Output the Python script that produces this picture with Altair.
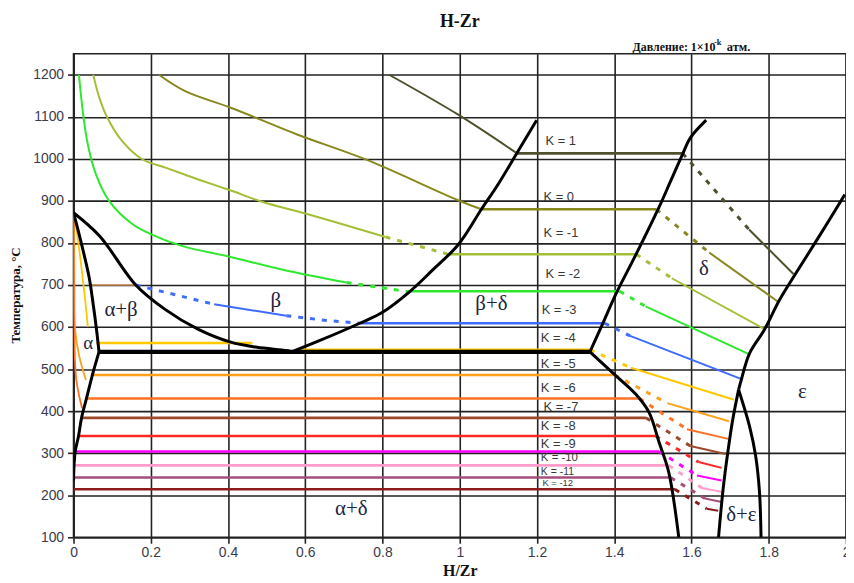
import altair as alt
import pandas as pd

# ---------------- axes ----------------
X_TICKS = [0, 0.2, 0.4, 0.6, 0.8, 1, 1.2, 1.4, 1.6, 1.8, 2]
Y_TICKS = [100, 200, 300, 400, 500, 600, 700, 800, 900, 1000, 1100, 1200]

# ---------------- K (pressure exponent) colours ----------------
K_NAMES = ["1", "0", "-1", "-2", "-3", "-3ab", "-4", "-5", "-6", "-7", "-8", "-9", "-10", "-11", "-12"]
K_COLORS = ["#50502c", "#88881f", "#a3bf35", "#2ee82e", "#3d6cff", "#c98a4a", "#ffc800",
            "#ffa11a", "#ff7124", "#9e4a2a", "#ff2626", "#ff00ff", "#ff9ccc", "#a44f7c", "#8c1c1c"]

# ---------------- phase boundaries (H/Zr, T °C) ----------------
B_BETA_TRANSUS = [(0, 872), (0.068, 816), (0.161, 700), (0.237, 642), (0.322, 595), (0.407, 564),
                  (0.475, 552), (0.551, 544), (0.565, 541)]
B_ALPHA_BETA = [(0, 872), (0.02, 800), (0.04, 720), (0.05, 660), (0.06, 590), (0.066, 541)]
B_ALPHA_SOLVUS = [(0.066, 541), (0.05, 490), (0.034, 432), (0.021, 385), (0.013, 341), (0.004, 302), (0, 235)]
B_EUTECTOID = [(0.066, 541), (1.337, 541)]
B_BETA_DELTA = [(0.565, 541), (0.638, 568), (0.741, 609), (0.8, 635), (0.869, 683), (0.928, 734),
                (0.997, 797), (1.056, 880), (1.099, 939), (1.15, 1017), (1.199, 1092)]
B_DELTA_LEFT = [(1.337, 541), (1.371, 610), (1.405, 680), (1.456, 772), (1.516, 885), (1.545, 945),
                (1.575, 1007), (1.597, 1050), (1.638, 1092)]
B_DELTA_ALPHA = [(1.337, 541), (1.401, 487), (1.456, 440), (1.49, 397), (1.516, 326), (1.541, 255), (1.567, 100)]
B_DELTA_RIGHT = [(1.722, 451), (1.729, 475), (1.75, 537), (1.789, 594), (1.827, 663), (1.869, 726),
                 (1.93, 815), (1.997, 915)]
B_DELTA_DE = [(1.722, 451), (1.707, 381), (1.694, 302), (1.682, 216), (1.670, 100)]
B_EPS_DE = [(1.722, 451), (1.750, 365), (1.766, 294), (1.776, 208), (1.780, 100)]

# ---------------- isobars ----------------
K1_BETA = [(0.817, 1200), (0.996, 1105), (1.145, 1015)]
K1_TIE = [(1.145, 1013), (1.577, 1013)]
K1_DOTS = [(1.577, 1013), (1.749, 832)]
K1_DELTA = [(1.749, 832), (1.864, 726)]

K0_BETA = [(0.221, 1200), (0.289, 1161), (0.409, 1121), (0.579, 1058), (0.758, 998), (0.997, 901), (1.056, 880)]
K0_TIE = [(1.056, 880), (1.509, 880)]
K0_DOTS = [(1.509, 880), (1.646, 777)]
K0_DELTA = [(1.646, 777), (1.826, 659)]

KM1_BETA = [(0.051, 1200), (0.067, 1145), (0.088, 1097), (0.126, 1042), (0.178, 999), (0.238, 979),
            (0.323, 951), (0.409, 924), (0.494, 896), (0.6, 870), (0.808, 814)]
KM1_DOTS1 = [(0.808, 814), (0.971, 773)]
KM1_TIE = [(0.971, 773), (1.457, 773)]
KM1_DOTS2 = [(1.457, 773), (1.549, 716)]
KM1_DELTA = [(1.549, 716), (1.787, 596)]

KM2_BETA = [(0.014, 1200), (0.024, 1113), (0.037, 1034), (0.058, 963), (0.092, 900), (0.152, 845),
            (0.2, 821), (0.28, 793), (0.409, 766), (0.553, 734), (0.707, 706)]
KM2_DOTS1 = [(0.707, 706), (0.86, 685)]
KM2_TIE = [(0.86, 685), (1.414, 685)]
KM2_DOTS2 = [(1.414, 685), (1.481, 649)]
KM2_DELTA = [(1.481, 649), (1.75, 535)]

KM3_AB = [(0.045, 700), (0.161, 700)]
KM3_DOTS1 = [(0.161, 700), (0.364, 654)]
KM3_BETA = [(0.364, 654), (0.551, 627)]
KM3_DOTS2 = [(0.551, 627), (0.65, 616), (0.741, 609)]
KM3_TIE = [(0.741, 609), (1.375, 609)]
KM3_DOTS3 = [(1.375, 609), (1.441, 579)]
KM3_DELTA = [(1.441, 579), (1.733, 475)]

KM4_ALPHA = [(0.003, 865), (0.017, 768), (0.03, 666), (0.037, 601)]
KM4_AB = [(0.058, 562), (0.463, 562)]
KM4_TIE = [(0.575, 546), (1.337, 546)]
KM4_DOTS = [(1.337, 546), (1.443, 503)]
KM4_DELTA = [(1.443, 503), (1.710, 427)]

KM5_ALPHA = [(0.001, 870), (0.002, 700), (0.004, 594), (0.015, 530), (0.032, 474)]
KM5_TIE = [(0.045, 486), (1.401, 486)]
KM5_DOTS = [(1.401, 486), (1.537, 419)]
KM5_DELTA = [(1.537, 419), (1.697, 376)]

KM6_ALPHA = [(0.0, 870), (0.001, 700), (0.002, 594), (0.007, 476), (0.022, 407)]
KM6_TIE = [(0.032, 430), (1.465, 430)]
KM6_DOTS = [(1.465, 430), (1.588, 357)]
KM6_DELTA = [(1.588, 357), (1.695, 334)]

KM7_TIE = [(0.022, 384), (1.482, 384)]
KM7_DOTS = [(1.482, 384), (1.597, 317)]
KM7_DELTA = [(1.597, 317), (1.688, 298)]

KM8_TIE = [(0.013, 341), (1.507, 341)]
KM8_DOTS = [(1.507, 341), (1.618, 279)]
KM8_DELTA = [(1.618, 279), (1.678, 265)]

KM9_TIE = [(0.004, 304), (1.516, 304)]
KM9_DOTS = [(1.516, 304), (1.614, 247)]
KM9_DELTA = [(1.614, 247), (1.678, 235)]

KM10_TIE = [(0.002, 271), (1.541, 271)]
KM10_DOTS = [(1.541, 271), (1.627, 217)]
KM10_DELTA = [(1.627, 217), (1.678, 208)]

KM11_TIE = [(0.0, 242), (1.546, 242)]
KM11_DOTS = [(1.546, 242), (1.635, 192)]
KM11_DELTA = [(1.635, 192), (1.678, 184)]

KM12_TIE = [(0.0, 214), (1.557, 214)]
KM12_DOTS = [(1.557, 214), (1.639, 168)]
KM12_DELTA = [(1.639, 168), (1.669, 163)]

# ---------------- labels ----------------
K_LABELS = ["K = 1", "K = 0", "K = -1", "K = -2", "K = -3", "K = -4", "K = -5", "K = -6",
            "K = -7", "K = -8", "K = -9"]
K_LABEL_X = [1.222, 1.217, 1.217, 1.222, 1.212, 1.21, 1.21, 1.21, 1.217, 1.21, 1.21]
K_LABEL_T = [1042, 910, 823, 726, 641, 575, 513, 454, 409, 365, 322]
K10_LABEL = ["K = -10"]
K10_X = [1.21]
K10_T = [288]
K11_LABEL = ["K = -11"]
K11_X = [1.21]
K11_T = [256]
K12_LABEL = ["K = -12"]
K12_X = [1.214]
K12_T = [228]

PHASES = ["α+β", "β", "β+δ", "δ", "ε", "δ+ε", "α+δ"]
PHASE_X = [0.123, 0.524, 1.082, 1.632, 1.887, 1.729, 0.719]
PHASE_T = [641, 662, 655, 738, 445, 152, 168]
ALPHA_LABEL_X = [0.038]
ALPHA_LABEL_T = [561]

# ---------------- build tables ----------------
SEGMENTS = [
    ("k1b", "1", "curve", K1_BETA), ("k1t", "1", "tie", K1_TIE), ("k1d", "1", "dot", K1_DOTS), ("k1s", "1", "curve", K1_DELTA),
    ("k0b", "0", "curve", K0_BETA), ("k0t", "0", "tie", K0_TIE), ("k0d", "0", "dot", K0_DOTS), ("k0s", "0", "curve", K0_DELTA),
    ("m1b", "-1", "curve", KM1_BETA), ("m1d1", "-1", "dot", KM1_DOTS1), ("m1t", "-1", "tie", KM1_TIE),
    ("m1d2", "-1", "dot", KM1_DOTS2), ("m1s", "-1", "curve", KM1_DELTA),
    ("m2b", "-2", "curve", KM2_BETA), ("m2d1", "-2", "dot", KM2_DOTS1), ("m2t", "-2", "tie", KM2_TIE),
    ("m2d2", "-2", "dot", KM2_DOTS2), ("m2s", "-2", "curve", KM2_DELTA),
    ("m3ab", "-3ab", "thin", KM3_AB), ("m3d1", "-3", "dot", KM3_DOTS1), ("m3b", "-3", "curve", KM3_BETA),
    ("m3d2", "-3", "dot", KM3_DOTS2), ("m3t", "-3", "tie", KM3_TIE), ("m3d3", "-3", "dot", KM3_DOTS3),
    ("m3s", "-3", "curve", KM3_DELTA),
    ("m4a", "-4", "alpha", KM4_ALPHA), ("m4ab", "-4", "tie", KM4_AB), ("m4t", "-4", "tie", KM4_TIE),
    ("m4d", "-4", "dot", KM4_DOTS), ("m4s", "-4", "curve", KM4_DELTA),
    ("m5a", "-5", "alpha", KM5_ALPHA), ("m5t", "-5", "tie", KM5_TIE), ("m5d", "-5", "dot", KM5_DOTS), ("m5s", "-5", "curve", KM5_DELTA),
    ("m6a", "-6", "alpha", KM6_ALPHA), ("m6t", "-6", "tie", KM6_TIE), ("m6d", "-6", "dot", KM6_DOTS), ("m6s", "-6", "curve", KM6_DELTA),
    ("m7t", "-7", "tie", KM7_TIE), ("m7d", "-7", "dot", KM7_DOTS), ("m7s", "-7", "curve", KM7_DELTA),
    ("m8t", "-8", "tie", KM8_TIE), ("m8d", "-8", "dot", KM8_DOTS), ("m8s", "-8", "curve", KM8_DELTA),
    ("m9t", "-9", "tie", KM9_TIE), ("m9d", "-9", "dot", KM9_DOTS), ("m9s", "-9", "curve", KM9_DELTA),
    ("m10t", "-10", "tie", KM10_TIE), ("m10d", "-10", "dot", KM10_DOTS), ("m10s", "-10", "curve", KM10_DELTA),
    ("m11t", "-11", "tie", KM11_TIE), ("m11d", "-11", "dot", KM11_DOTS), ("m11s", "-11", "curve", KM11_DELTA),
    ("m12t", "-12", "tie", KM12_TIE), ("m12d", "-12", "dot", KM12_DOTS), ("m12s", "-12", "curve", KM12_DELTA),
]
BOUNDS = [
    ("b1", "bound", B_BETA_TRANSUS), ("b2", "bound", B_ALPHA_BETA), ("b3", "bound", B_ALPHA_SOLVUS),
    ("b4", "eut", B_EUTECTOID), ("b5", "bound", B_BETA_DELTA), ("b6", "bound", B_DELTA_LEFT),
    ("b7", "bound", B_DELTA_ALPHA), ("b8", "bound", B_DELTA_RIGHT), ("b9", "bound", B_DELTA_DE),
    ("b10", "bound", B_EPS_DE),
]

rows = []
for name, k, style, pts in SEGMENTS:
    for i, (x, t) in enumerate(pts):
        rows.append({"seg": name, "k": k, "style": style, "i": i, "x": x, "t": t})
iso = pd.DataFrame(rows)

brows = []
for name, style, pts in BOUNDS:
    for i, (x, t) in enumerate(pts):
        brows.append({"seg": name, "style": style, "i": i, "x": x, "t": t})
bnd = pd.DataFrame(brows)

klab = pd.DataFrame({"x": K_LABEL_X, "t": K_LABEL_T, "label": K_LABELS})
k10 = pd.DataFrame({"x": K10_X, "t": K10_T, "label": K10_LABEL})
k11 = pd.DataFrame({"x": K11_X, "t": K11_T, "label": K11_LABEL})
k12 = pd.DataFrame({"x": K12_X, "t": K12_T, "label": K12_LABEL})
phase = pd.DataFrame({"x": PHASE_X, "t": PHASE_T, "label": PHASES})
alpha_lab = pd.DataFrame({"x": ALPHA_LABEL_X, "t": ALPHA_LABEL_T, "label": ["α"]})

GRID = "#222222"
x_enc = alt.X("x:Q", scale=alt.Scale(domain=[0, 2], nice=False, zero=False),
              axis=alt.Axis(values=X_TICKS, format="~g", grid=True, gridColor=GRID, gridWidth=1.6,
                            domainColor=GRID, domainWidth=1.6, tickColor=GRID, tickWidth=1.6, tickSize=6,
                            labelFont="Liberation Sans", labelFontSize=14, labelColor="#3a3a4a",
                            labelPadding=2, labelFlush=False, labelOverlap=False,
                            title="H/Zr", titleFont="Liberation Serif", titleFontSize=16,
                            titleFontWeight="bold", titleColor="#111111", titleX=389, titleY=34,
                            titleAlign="center", titleBaseline="middle"))
y_enc = alt.Y("t:Q", scale=alt.Scale(domain=[100, 1250], nice=False, zero=False),
              axis=alt.Axis(values=Y_TICKS, format="d", grid=True, gridColor=GRID, gridWidth=1.6,
                            domainColor=GRID, domainWidth=1.6, tickColor=GRID, tickWidth=1.6, tickSize=6,
                            labelFont="Liberation Sans", labelFontSize=14, labelColor="#3a3a4a",
                            labelPadding=4, labelFlush=False, labelOverlap=False,
                            title="Температура, °C", titleFont="Liberation Serif", titleFontSize=13,
                            titleFontWeight="bold", titleColor="#111111", titleAngle=270,
                            titleX=-58, titleY=243, titleAlign="center", titleBaseline="middle"))

color_enc = alt.Color("k:N", scale=alt.Scale(domain=K_NAMES, range=K_COLORS), legend=None)


def iso_layer(style, width, dash=None, interp="linear"):
    kw = dict(strokeWidth=width, clip=True, strokeCap="butt", strokeJoin="round", interpolate=interp)
    if dash is not None:
        kw["strokeDash"] = dash
    return (alt.Chart(iso).transform_filter(alt.datum.style == style)
            .mark_line(**kw)
            .encode(x=x_enc, y=y_enc, detail="seg:N", order="i:Q", color=color_enc))


def bound_layer(style, width):
    return (alt.Chart(bnd).transform_filter(alt.datum.style == style)
            .mark_line(strokeWidth=width, color="#000000", clip=True, strokeJoin="round",
                       interpolate="catmull-rom")
            .encode(x=x_enc, y=y_enc, detail="seg:N", order="i:Q"))


def text_layer(df, size, font="Liberation Sans", color="#383838", align="left"):
    return alt.Chart(df).mark_text(align=align, baseline="middle", font=font, fontSize=size,
                                   color=color).encode(x=x_enc, y=y_enc, text="label:N")


layers = [
    iso_layer("thin", 1.3),
    iso_layer("alpha", 1.8, interp="catmull-rom"),
    iso_layer("curve", 2.0, interp="catmull-rom"),
    iso_layer("tie", 2.6),
    iso_layer("dot", 3.0, [5, 7]),
    bound_layer("eut", 4.2),
    bound_layer("bound", 3.0),
    text_layer(klab, 13),
    text_layer(k10, 11.5),
    text_layer(k11, 10.5),
    text_layer(k12, 9.5),
    text_layer(phase, 21, font="Liberation Serif", color="#1d2340", align="center"),
    text_layer(alpha_lab, 19, font="Liberation Serif", color="#1d2340", align="center"),
]

one = pd.DataFrame({"a": [0]})
title = alt.Chart(one).mark_text(text="H-Zr", font="Liberation Serif", fontSize=18, fontWeight="bold",
                                 align="center", baseline="middle", color="#111111").encode(
    x=alt.value(389), y=alt.value(-32))
sub1 = alt.Chart(one).mark_text(text="Давление: 1×10", font="Liberation Serif", fontSize=12,
                                fontWeight="bold", align="left", baseline="middle", color="#111111").encode(
    x=alt.value(563), y=alt.value(-7))
sub2 = alt.Chart(one).mark_text(text="-k", font="Liberation Serif", fontSize=8.5, fontWeight="bold",
                                align="left", baseline="middle", color="#111111").encode(
    x=alt.value(645), y=alt.value(-12))
sub3 = alt.Chart(one).mark_text(text="атм.", font="Liberation Serif", fontSize=12.5, fontWeight="bold",
                                align="left", baseline="middle", color="#111111").encode(
    x=alt.value(658), y=alt.value(-7))

chart = (alt.layer(*layers, title, sub1, sub2, sub3)
         .properties(width=778, height=487, autosize="none",
                     padding={"left": 66, "top": 44, "right": 0, "bottom": 42},
                     background="#ffffff")
         .configure_view(stroke=GRID, strokeWidth=1.6))

chart.save("out.html", embed_options={"renderer": "svg", "actions": False})
